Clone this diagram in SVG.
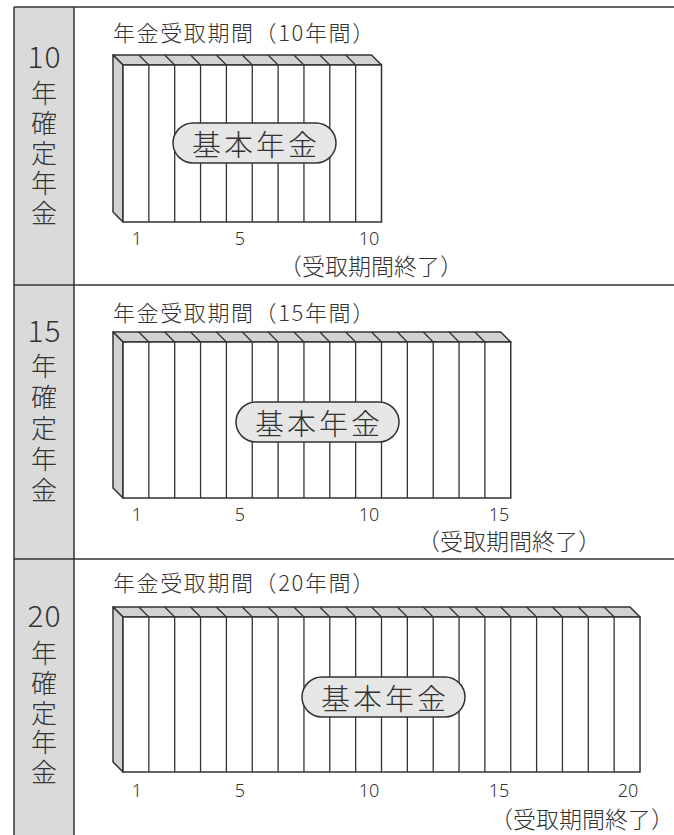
<svg xmlns="http://www.w3.org/2000/svg" width="674" height="835" viewBox="0 0 674 835">
<style>
  .ln{stroke:#333;stroke-width:1.5;fill:none}
  .col{stroke:#333;stroke-width:1.3;fill:none}
  .face{fill:#d2d2d2;stroke:#333;stroke-width:1.5;stroke-linejoin:round}
  .front{fill:#fff;stroke:#333;stroke-width:1.5}
  .pill{fill:#e6e6e6;stroke:#333;stroke-width:1.5}
  text{font-family:'Noto Sans CJK JP','Noto Sans',sans-serif;font-weight:300;fill:#333;dominant-baseline:central}
  .title{font-size:22px;letter-spacing:1.6px}
  .side{font-size:26px;text-anchor:middle}
  .num{font-size:30px;text-anchor:middle;letter-spacing:1px}
  .ax{font-size:18px;text-anchor:middle;font-family:'Noto Sans','Noto Sans CJK JP',sans-serif}
  .end{font-size:23px}
  .kihon{font-size:29px;text-anchor:middle;letter-spacing:3px}
</style>
<g id="frame">
  <rect x="14" y="7" width="60" height="830" fill="#dadada"/>
  <line class="ln" x1="14" y1="7" x2="674" y2="7"/>
  <line class="ln" x1="14" y1="285" x2="674" y2="285"/>
  <line class="ln" x1="14" y1="559" x2="674" y2="559"/>
  <line class="ln" x1="14" y1="7" x2="14" y2="835"/>
  <line class="ln" x1="74" y1="7" x2="74" y2="835"/>
</g>
<g id="label-10">
  <text class="num" x="44.5" y="55">10</text>
  <text class="side" x="44" y="91">年</text>
  <text class="side" x="44" y="121">確</text>
  <text class="side" x="44" y="151">定</text>
  <text class="side" x="44" y="181">年</text>
  <text class="side" x="44" y="211">金</text>
</g>
<g id="label-15">
  <text class="num" x="44.5" y="329">15</text>
  <text class="side" x="44" y="364">年</text>
  <text class="side" x="44" y="395">確</text>
  <text class="side" x="44" y="426">定</text>
  <text class="side" x="44" y="457">年</text>
  <text class="side" x="44" y="488">金</text>
</g>
<g id="label-20">
  <text class="num" x="44.5" y="614">20</text>
  <text class="side" x="44" y="651">年</text>
  <text class="side" x="44" y="681">確</text>
  <text class="side" x="44" y="711">定</text>
  <text class="side" x="44" y="740.5">年</text>
  <text class="side" x="44" y="770">金</text>
</g>
<g id="section-10">
  <text class="title" x="113" y="31">年金受取期間（10年間）</text>
  <polygon class="face" points="113,55 371.5,55 381.5,65 123,65"/>
  <polygon class="face" points="113,55 123,65 123,222 113,212"/>
  <rect class="front" x="123" y="65" width="258.5" height="157"/>
  <path class="col" d="M138.85,55L148.85,65V222M164.7,55L174.7,65V222M190.55,55L200.55,65V222M216.4,55L226.4,65V222M242.25,55L252.25,65V222M268.1,55L278.1,65V222M293.95,55L303.95,65V222M319.8,55L329.8,65V222M345.65,55L355.65,65V222"/>
  <rect class="pill" x="173" y="123" width="163" height="40" rx="20"/>
  <text class="kihon" x="256" y="143">基本年金</text>
  <text class="ax" x="137" y="238">1</text>
  <text class="ax" x="240" y="238">5</text>
  <text class="ax" x="369" y="238">10</text>
  <text class="end" x="279" y="265">（受取期間終了）</text>
</g>
<g id="section-15">
  <text class="title" x="113" y="311">年金受取期間（15年間）</text>
  <polygon class="face" points="113,332 500.75,332 510.75,342 123,342"/>
  <polygon class="face" points="113,332 123,342 123,498 113,488"/>
  <rect class="front" x="123" y="342" width="387.75" height="156"/>
  <path class="col" d="M138.85,332L148.85,342V498M164.7,332L174.7,342V498M190.55,332L200.55,342V498M216.4,332L226.4,342V498M242.25,332L252.25,342V498M268.1,332L278.1,342V498M293.95,332L303.95,342V498M319.8,332L329.8,342V498M345.65,332L355.65,342V498M371.5,332L381.5,342V498M397.35,332L407.35,342V498M423.2,332L433.2,342V498M449.05,332L459.05,342V498M474.9,332L484.9,342V498"/>
  <rect class="pill" x="236" y="402" width="163" height="40" rx="20"/>
  <text class="kihon" x="319" y="422">基本年金</text>
  <text class="ax" x="137" y="514">1</text>
  <text class="ax" x="240" y="514">5</text>
  <text class="ax" x="369" y="514">10</text>
  <text class="ax" x="499" y="514">15</text>
  <text class="end" x="417" y="540">（受取期間終了）</text>
</g>
<g id="section-20">
  <text class="title" x="113" y="581">年金受取期間（20年間）</text>
  <polygon class="face" points="113,607 630,607 640,617 123,617"/>
  <polygon class="face" points="113,607 123,617 123,772 113,762"/>
  <rect class="front" x="123" y="617" width="517" height="155"/>
  <path class="col" d="M138.85,607L148.85,617V772M164.7,607L174.7,617V772M190.55,607L200.55,617V772M216.4,607L226.4,617V772M242.25,607L252.25,617V772M268.1,607L278.1,617V772M293.95,607L303.95,617V772M319.8,607L329.8,617V772M345.65,607L355.65,617V772M371.5,607L381.5,617V772M397.35,607L407.35,617V772M423.2,607L433.2,617V772M449.05,607L459.05,617V772M474.9,607L484.9,617V772M500.75,607L510.75,617V772M526.6,607L536.6,617V772M552.45,607L562.45,617V772M578.3,607L588.3,617V772M604.15,607L614.15,617V772"/>
  <rect class="pill" x="302" y="677" width="163" height="40" rx="20"/>
  <text class="kihon" x="385" y="697">基本年金</text>
  <text class="ax" x="137" y="790">1</text>
  <text class="ax" x="240" y="790">5</text>
  <text class="ax" x="369" y="790">10</text>
  <text class="ax" x="499" y="790">15</text>
  <text class="ax" x="628" y="790">20</text>
  <text class="end" x="490" y="818">（受取期間終了）</text>
</g>
</svg>
